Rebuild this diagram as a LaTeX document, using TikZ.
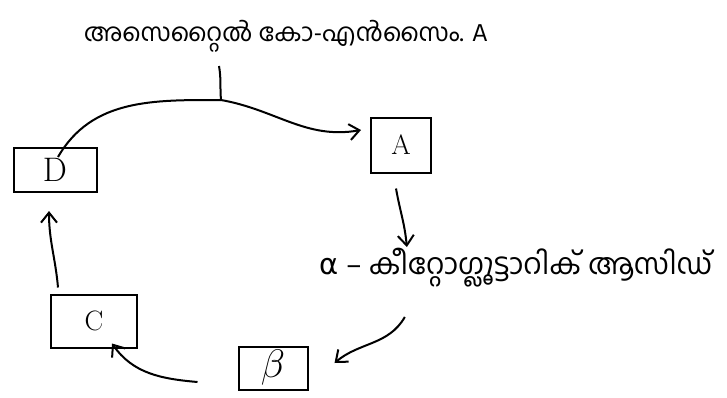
\documentclass[tikz,border=0pt]{standalone}
\usepackage{fontspec}
\newfontfamily\mal[Script=Malayalam]{Hind Kochi}
\newfontfamily\dvs{DejaVu Sans}
\usetikzlibrary{arrows.meta}
\begin{document}
\begin{tikzpicture}[x=1pt,y=-1pt,line width=2pt,
  box/.style={draw,inner sep=0pt,font=\fontsize{28}{30}\selectfont},
  lbl/.style={inner sep=0pt,font=\mal\fontsize{25}{28}\selectfont},
  arr/.style={-{Straight Barb[length=10pt,width=16pt,line width=2pt]}}]
\useasboundingbox (0,0) rectangle (727,397);
\node[lbl] (top) at (286,36) {അസെറ്റൈൽ കോ-എൻസൈം. A};
\node[lbl,font=\mal\fontsize{29}{32}\selectfont] (alpha) at (516,268) {{\dvs α} – കീറ്റോഗ്ലൂട്ടാറിക് ആസിഡ്};
\node[box,minimum width=60pt,minimum height=55pt] (A) at (401,145) {A};
\node[box,minimum width=83pt,minimum height=44pt,font=\fontsize{34}{36}\selectfont] (D) at (55,170) {D};
\node[box,minimum width=86pt,minimum height=53pt] (C) at (94,321) {C};
\node[box,minimum width=69pt,minimum height=43pt] (B) at (273,368) {\scalebox{1.6}{$\beta$}};
\coordinate (tick) at (219,66);
\coordinate (J) at (221,100);
\draw (tick) to[out=-80,in=95] (J);
\draw (J) to[out=180,in=60] ([xshift=3pt,yshift=-10pt]D.north);
\draw[arr] (J) to[out=-10,in=190] ([xshift=-9pt,yshift=15pt]A.west);
\draw[arr] ([xshift=-5pt,yshift=-15pt]A.south) to[out=-80,in=95] ([xshift=88pt,yshift=21pt]alpha.west);
\draw[arr] ([xshift=86pt,yshift=-49pt]alpha.west) to[out=-120,in=40] ([xshift=26pt,yshift=5pt]B.east);
\draw[arr] ([xshift=-40pt,yshift=-14pt]B.west) to[out=175,in=-55] ([xshift=-26pt,yshift=5pt]C.south east);
\draw[arr] ([xshift=-36pt,yshift=6pt]C.north) to[out=95,in=-90] ([xshift=-6pt,yshift=-18pt]D.south);
\end{tikzpicture}
\end{document}
